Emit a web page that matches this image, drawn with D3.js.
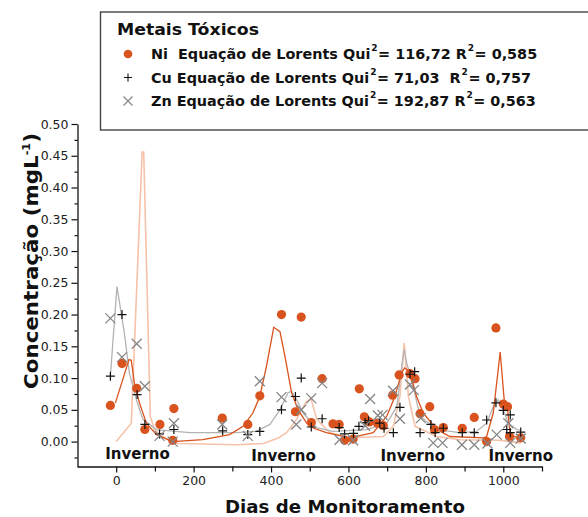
<!DOCTYPE html>
<html>
<head>
<meta charset="utf-8">
<script src="https://cdn.jsdelivr.net/npm/d3@7"></script>
<style>
body{margin:0;background:#fff;}
svg{display:block;}
</style>
</head>
<body>
<svg></svg>
<script>
const w = 588;
const h = 517;
const font = "'DejaVu Sans', sans-serif";

// measured points [day, mg/L]
const niPoints = [
  [-15,0.057],[15,0.123],[53,0.084],[74,0.019],[113,0.027],[149,0.052],[146,0.002],
  [274,0.037],[340,0.027],[371,0.072],[427,0.200],[478,0.196],[463,0.047],[504,0.030],
  [532,0.099],[560,0.028],[576,0.027],[590,0.002],[612,0.004],[628,0.083],[641,0.039],
  [654,0.031],[675,0.029],[690,0.025],[714,0.073],[731,0.105],[759,0.107],[772,0.099],
  [785,0.044],[810,0.055],[822,0.019],[845,0.022],[894,0.021],[925,0.038],[957,0.000],
  [981,0.179],[1000,0.059],[1011,0.055],[1016,0.008],[1045,0.006]
];
const cuPoints = [
  [-15,0.103],[15,0.200],[54,0.074],[74,0.027],[112,0.012],[149,0.019],[275,0.017],
  [340,0.011],[371,0.016],[427,0.050],[463,0.071],[478,0.100],[504,0.023],[532,0.036],
  [576,0.022],[590,0.012],[613,0.013],[627,0.024],[643,0.030],[652,0.033],[681,0.029],
  [692,0.021],[716,0.014],[733,0.054],[759,0.106],[771,0.110],[785,0.014],[813,0.027],
  [824,0.014],[845,0.021],[894,0.014],[925,0.014],[957,0.034],[981,0.061],[1000,0.049],
  [1009,0.019],[1018,0.042],[1018,0.014],[1045,0.015]
];
const znPoints = [
  [-15,0.194],[15,0.133],[53,0.154],[74,0.087],[112,0.009],[149,0.029],[146,0.000],
  [274,0.027],[340,0.009],[371,0.095],[427,0.070],[465,0.027],[478,0.050],[504,0.068],
  [532,0.092],[577,0.003],[612,0.002],[643,0.025],[656,0.067],[676,0.041],[688,0.042],
  [715,0.080],[733,0.036],[759,0.090],[769,0.081],[787,0.037],[819,-0.002],[843,-0.002],
  [893,-0.005],[925,-0.005],[959,-0.003],[983,0.011],[1013,0.029],[1018,-0.002],[1045,0.005]
];

// fitted Lorentz curves, vertices
const niFit = [
  [-2,0.061],[33,0.129],[39,0.128],[47,0.092],[60,0.061],[78,0.029],[104,0.011],[146,0.000],
  [224,0.003],[293,0.011],[328,0.024],[353,0.045],[371,0.071],[388,0.118],[407,0.180],
  [423,0.173],[436,0.134],[453,0.077],[470,0.050],[492,0.029],[510,0.021],[543,0.014],
  [604,0.006],[664,0.014],[699,0.040],[720,0.071],[737,0.108],[745,0.116],[758,0.111],
  [776,0.071],[793,0.045],[828,0.019],[862,0.008],[949,0.006],[957,0.008],[974,0.045],
  [992,0.141],[1003,0.061],[1011,0.050],[1018,0.012],[1045,0.003]
];
const cuFit = [
  [-15,0.103],[2,0.244],[21,0.171],[34,0.108],[52,0.066],[69,0.035],[104,0.019],[190,0.014],
  [310,0.014],[362,0.016],[397,0.027],[423,0.050],[444,0.077],[453,0.079],[466,0.066],
  [483,0.045],[517,0.022],[560,0.016],[647,0.019],[699,0.029],[725,0.055],[739,0.125],
  [744,0.145],[750,0.125],[767,0.087],[785,0.040],[828,0.019],[888,0.014],[931,0.016],
  [957,0.029],[974,0.055],[987,0.066],[1000,0.050],[1013,0.029],[1035,0.019],[1045,0.018]
];
const znFit = [
  [0,0.000],[39,0.029],[67,0.456],[71,0.456],[88,0.040],[99,0.019],[129,0.004],[160,-0.003],
  [310,-0.005],[380,-0.003],[420,0.006],[440,0.014],[466,0.035],[490,0.062],[503,0.068],
  [518,0.035],[552,0.014],[604,0.006],[690,0.008],[716,0.024],[733,0.071],[744,0.155],
  [755,0.071],[772,0.024],[828,0.008],[888,0.003],[990,0.002],[1045,-0.002]
];

const winterDays = [55, 432, 766, 1045];
const yMajor = [0,0.05,0.10,0.15,0.20,0.25,0.30,0.35,0.40,0.45,0.50];
const yMinor = [-0.025,0.025,0.075,0.125,0.175,0.225,0.275,0.325,0.375,0.425,0.475];
const xMajor = [0,200,400,600,800,1000];
const xMinor = [100,300,500,700,900,1100];

const legendRows = [
  {name:"Ni  ", stat:"116,72", r2:"0,585"},
  {name:"Cu ",  stat:"71,03 ", r2:"0,757"},
  {name:"Zn ",  stat:"192,87", r2:"0,563"}
];

const colNi = "#d9531e";
const colCuLine = "#b3b3b3";
const colZnLine = "#f6c2aa";
const colZn = "#858585";

const svg = d3.select("svg").attr("width", w).attr("height", h);

const x = d3.scaleLinear().domain([-100, 1100]).range([77.5, 542]);
const y = d3.scaleLinear().domain([-0.04, 0.5]).range([467, 124]);

// axes
svg.append("g").attr("transform","translate(77.5,0)")
  .call(d3.axisLeft(y).tickValues(yMajor).tickSize(6).tickSizeOuter(0).tickFormat(d3.format(".2f")));
svg.append("g").attr("transform","translate(77.5,0)")
  .call(d3.axisLeft(y).tickValues(yMinor).tickSize(3).tickSizeOuter(0).tickFormat(""))
  .select(".domain").remove();
svg.append("g").attr("transform","translate(0,466.5)")
  .call(d3.axisBottom(x).tickValues(xMajor).tickSize(6).tickSizeOuter(0).tickPadding(4).tickFormat(d3.format("d")));
svg.append("g").attr("transform","translate(0,466.5)")
  .call(d3.axisBottom(x).tickValues(xMinor).tickSize(5).tickSizeOuter(0).tickFormat(""))
  .select(".domain").remove();

svg.selectAll(".tick line").attr("stroke","#111").attr("stroke-width",1.2);
svg.selectAll(".domain").attr("stroke","#111").attr("stroke-width",1.3);
svg.selectAll(".tick text").attr("font-family",font).attr("font-size",12.5).attr("fill","#222");

// fit lines
const line = d3.line().x(d=>x(d[0])).y(d=>y(d[1]));
svg.append("path").datum(znFit).attr("d",line).attr("fill","none")
  .attr("stroke",colZnLine).attr("stroke-width",1.6);
svg.append("path").datum(cuFit).attr("d",line).attr("fill","none")
  .attr("stroke",colCuLine).attr("stroke-width",1.3);
svg.append("path").datum(niFit).attr("d",line).attr("fill","none")
  .attr("stroke",colNi).attr("stroke-width",1.3);

// markers
const plus = "M-4.5,0H4.5M0,-4.5V4.5";
const cross = "M-5,-5L5,5M-5,5L5,-5";

svg.append("g").selectAll("circle").data(niPoints).enter().append("circle")
  .attr("cx",d=>x(d[0])).attr("cy",d=>y(d[1])).attr("r",4.6).attr("fill",colNi);
svg.append("g").selectAll("path").data(cuPoints).enter().append("path")
  .attr("d",plus).attr("transform",d=>`translate(${x(d[0])},${y(d[1])})`)
  .attr("stroke","#111").attr("stroke-width",1.2).attr("fill","none");
svg.append("g").selectAll("path").data(znPoints).enter().append("path")
  .attr("d",cross).attr("transform",d=>`translate(${x(d[0])},${y(d[1])})`)
  .attr("stroke",colZn).attr("stroke-width",1.3).attr("fill","none");

// winter labels
svg.append("g").selectAll("text").data(winterDays).enter().append("text")
  .attr("x",d=>x(d)).attr("y",(d,i)=>i===0?458.5:461)
  .attr("text-anchor","middle").attr("font-family",font).attr("font-weight","bold")
  .attr("font-size",15).attr("fill","#111").text("Inverno");

// axis titles
svg.append("text").attr("x",345).attr("y",513).attr("text-anchor","middle")
  .attr("font-family",font).attr("font-weight","bold").attr("font-size",18)
  .attr("textLength",240).attr("lengthAdjust","spacingAndGlyphs")
  .attr("fill","#111").text("Dias de Monitoramento");

const yt = svg.append("text").attr("transform","translate(38,261) rotate(-90)")
  .attr("text-anchor","middle").attr("font-family",font).attr("font-weight","bold")
  .attr("font-size",19).attr("fill","#111")
  .attr("textLength",256).attr("lengthAdjust","spacingAndGlyphs");
yt.append("tspan").text("Concentração (mgL");
yt.append("tspan").attr("dy",-8).attr("font-size",10).text("-1");
yt.append("tspan").attr("dy",8).text(")");

// legend
const lg = svg.append("g");
lg.append("rect").attr("x",100.5).attr("y",12).attr("width",520).attr("height",118)
  .attr("fill","#fff").attr("stroke","#444").attr("stroke-width",1.4);
lg.append("text").attr("x",117).attr("y",35).attr("font-family",font).attr("font-weight","bold")
  .attr("font-size",15).attr("fill","#111")
  .attr("textLength",142).attr("lengthAdjust","spacingAndGlyphs").text("Metais Tóxicos");

const rowY = [59, 82.5, 106];
lg.append("circle").attr("cx",128).attr("cy",rowY[0]-5).attr("r",4.3).attr("fill",colNi);
lg.append("path").attr("d","M-4,0H4M0,-4V4").attr("transform",`translate(128,${rowY[1]-5})`)
  .attr("stroke","#111").attr("stroke-width",1.1);
lg.append("path").attr("d","M-4.5,-4.5L4.5,4.5M-4.5,4.5L4.5,-4.5").attr("transform",`translate(128,${rowY[2]-5})`)
  .attr("stroke",colZn).attr("stroke-width",1.2);

legendRows.forEach((r,i)=>{
  const t = lg.append("text").attr("x",151).attr("y",rowY[i])
    .attr("font-family",font).attr("font-weight","bold").attr("font-size",14.4)
    .attr("fill","#111").style("white-space","pre");
  t.append("tspan").text(r.name + "Equação de Lorents Qui");
  t.append("tspan").attr("dy",-8).attr("dx",1).attr("font-size",9).text("2");
  t.append("tspan").attr("dy",8).attr("dx",0.5).text("= " + r.stat + " R");
  t.append("tspan").attr("dy",-8).attr("dx",1).attr("font-size",9).text("2");
  t.append("tspan").attr("dy",8).attr("dx",0.5).text("= " + r.r2);
});
</script>
</body>
</html>
